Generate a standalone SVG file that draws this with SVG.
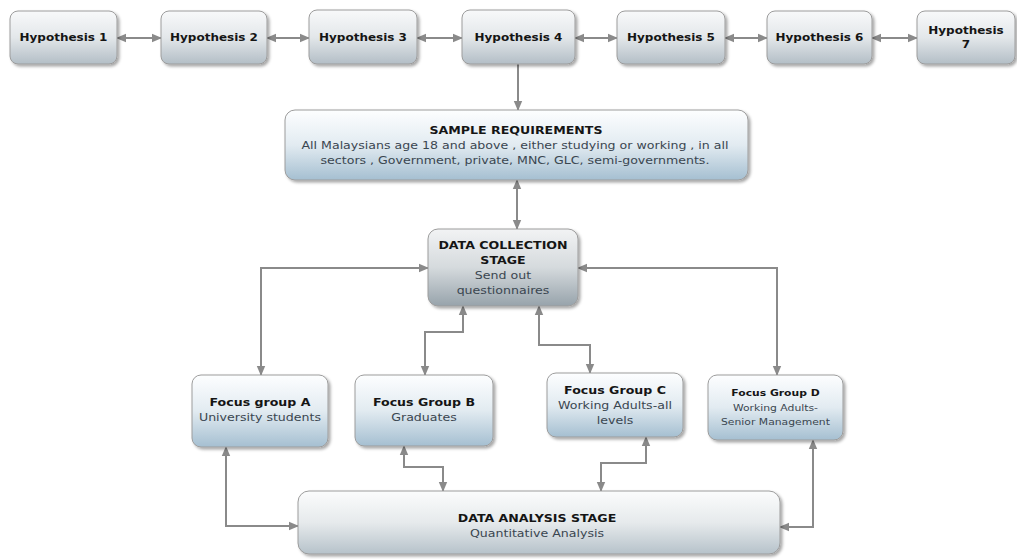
<svg xmlns="http://www.w3.org/2000/svg" width="1017" height="559" viewBox="0 0 1017 559">
<defs>
<linearGradient id="gHyp" x1="0" y1="0" x2="0" y2="1"><stop offset="0" stop-color="#f8f9fa"/><stop offset="0.5" stop-color="#e3e7ea"/><stop offset="1" stop-color="#b3bec6"/></linearGradient>
<linearGradient id="gBlue" x1="0" y1="0" x2="0" y2="1"><stop offset="0" stop-color="#fdfeff"/><stop offset="0.5" stop-color="#e2ebf1"/><stop offset="1" stop-color="#a5bfd1"/></linearGradient>
<linearGradient id="gDC" x1="0" y1="0" x2="0" y2="1"><stop offset="0" stop-color="#f2f3f4"/><stop offset="0.5" stop-color="#d5dadd"/><stop offset="1" stop-color="#97a3ab"/></linearGradient>
<linearGradient id="gDA" x1="0" y1="0" x2="0" y2="1"><stop offset="0" stop-color="#fbfcfc"/><stop offset="0.5" stop-color="#e6eaec"/><stop offset="1" stop-color="#b6c2ca"/></linearGradient>
<filter id="sh" x="-10%" y="-10%" width="125%" height="130%"><feDropShadow dx="2" dy="2" stdDeviation="1.5" flood-color="#000" flood-opacity="0.35"/></filter>
<marker id="ah" markerUnits="userSpaceOnUse" markerWidth="10" markerHeight="10" viewBox="0 0 10 10" refX="9" refY="5" orient="auto-start-reverse"><path d="M0,0.8 L10,5 L0,9.2 Z" fill="#8a8a8a"/></marker>
</defs>
<style>
.box{stroke:#9c9c9c;stroke-width:1;filter:url(#sh)}
.hyp{fill:url(#gHyp)}
.blue{fill:url(#gBlue)}
.dc{fill:url(#gDC)}
.da{fill:url(#gDA)}
text{font-family:"DejaVu Sans","Verdana",sans-serif;text-anchor:middle;dominant-baseline:central;transform-box:fill-box;transform-origin:center;transform:scaleX(1.2)}
.t{font-weight:bold;font-size:10.5px;fill:#151515}
.h{font-size:10px}
.b{font-size:10.5px;fill:#3a4650}
.s{font-size:9px}
.c{fill:none;stroke:#8a8a8a;stroke-width:2;marker-start:url(#ah);marker-end:url(#ah)}
.ce{fill:none;stroke:#8a8a8a;stroke-width:2;marker-end:url(#ah)}
</style>
<g id="connectors">
<path class="c" d="M117,38 H161"/>
<path class="c" d="M267,38 H309"/>
<path class="c" d="M417,38 H462"/>
<path class="c" d="M575,38 H617"/>
<path class="c" d="M725,38 H767"/>
<path class="c" d="M872,38 H917"/>
<path class="ce" d="M518,64 V110"/>
<path class="c" d="M517,180 V229"/>
<path class="c" d="M428,268 H261 V375"/>
<path class="c" d="M578,268 H777 V375"/>
<path class="c" d="M463,306 V332 H425 V375"/>
<path class="c" d="M539,306 V345 H590 V373"/>
<path class="c" d="M226,447 V526 H298"/>
<path class="c" d="M404,446 V467 H443 V491"/>
<path class="c" d="M646,437 V463 H601 V491"/>
<path class="c" d="M813,440 V527 H780"/>
</g>
<g id="h1"><rect class="box hyp" x="10" y="11" width="107" height="53" rx="8"/><text class="t h" x="63.5" y="38">Hypothesis 1</text></g>
<g id="h2"><rect class="box hyp" x="161" y="11" width="106" height="53" rx="8"/><text class="t h" x="214" y="38">Hypothesis 2</text></g>
<g id="h3"><rect class="box hyp" x="309" y="10" width="108" height="54" rx="8"/><text class="t h" x="363" y="38">Hypothesis 3</text></g>
<g id="h4"><rect class="box hyp" x="462" y="10" width="113" height="54" rx="8"/><text class="t h" x="518.5" y="38">Hypothesis 4</text></g>
<g id="h5"><rect class="box hyp" x="617" y="11" width="108" height="53" rx="8"/><text class="t h" x="671" y="38">Hypothesis 5</text></g>
<g id="h6"><rect class="box hyp" x="767" y="11" width="105" height="53" rx="8"/><text class="t h" x="819.5" y="38">Hypothesis 6</text></g>
<g id="h7"><rect class="box hyp" x="917" y="11" width="98" height="53" rx="8"/><text class="t h" x="966" y="31">Hypothesis</text><text class="t h" x="966" y="45">7</text></g>
<g id="sample"><rect class="box blue" x="285" y="110" width="463" height="70" rx="10"/><text class="t" x="516" y="130">SAMPLE REQUIREMENTS</text><text class="b" x="515" y="145">All Malaysians age 18 and above , either studying or working , in all</text><text class="b" x="515" y="160">sectors , Government, private,  MNC, GLC, semi-governments.</text></g>
<g id="collection"><rect class="box dc" x="428" y="229" width="150" height="77" rx="10"/><text class="t" x="503" y="245">DATA COLLECTION</text><text class="t" x="503" y="260">STAGE</text><text class="b" x="503" y="275">Send out</text><text class="b" x="503" y="290">questionnaires</text></g>
<g id="fa"><rect class="box blue" x="192" y="375" width="136" height="72" rx="9"/><text class="t" x="260" y="402">Focus group A</text><text class="b" x="260" y="417">University students</text></g>
<g id="fb"><rect class="box blue" x="355" y="375" width="138" height="71" rx="9"/><text class="t" x="424" y="402">Focus Group B</text><text class="b" x="424" y="417">Graduates</text></g>
<g id="fc"><rect class="box blue" x="547" y="373" width="136" height="64" rx="9"/><text class="t" x="615" y="390">Focus Group C</text><text class="b" x="615" y="405">Working Adults-all</text><text class="b" x="615" y="420">levels</text></g>
<g id="fd"><rect class="box blue" x="708" y="375" width="135" height="65" rx="9"/><text class="t s" x="775.5" y="393">Focus Group D</text><text class="b s" x="775.5" y="408">Working Adults-</text><text class="b s" x="775.5" y="422">Senior Management</text></g>
<g id="analysis"><rect class="box da" x="298" y="491" width="482" height="63" rx="11"/><text class="t" x="537" y="518">DATA ANALYSIS STAGE</text><text class="b" x="537" y="533">Quantitative Analysis</text></g>
</svg>
